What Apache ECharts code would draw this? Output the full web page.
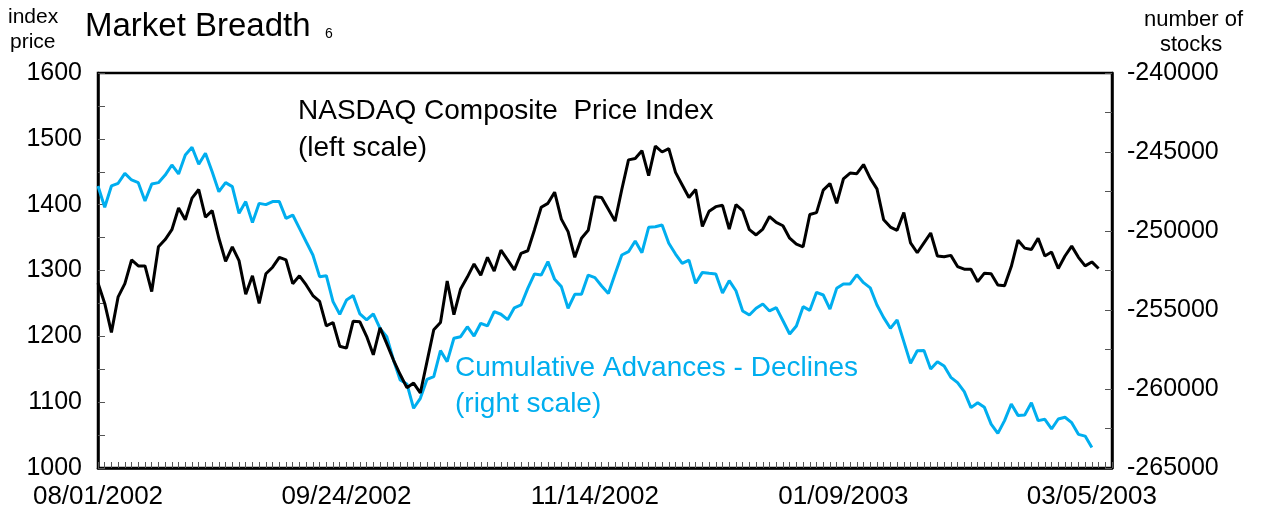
<!DOCTYPE html>
<html>
<head>
<meta charset="utf-8">
<script src="https://cdn.jsdelivr.net/npm/echarts@6/dist/echarts.min.js"></script>
<style>
html,body{margin:0;padding:0;background:#fff;}
#chart{width:1265px;height:512px;}
</style>
</head>
<body>
<div id="chart"></div>
<script>
const dates = [
"08/01/2002","08/02/2002","08/05/2002","08/06/2002","08/07/2002","08/08/2002","08/09/2002","08/12/2002","08/13/2002","08/14/2002",
"08/15/2002","08/16/2002","08/19/2002","08/20/2002","08/21/2002","08/22/2002","08/23/2002","08/26/2002","08/27/2002","08/28/2002",
"08/29/2002","08/30/2002","09/03/2002","09/04/2002","09/05/2002","09/06/2002","09/09/2002","09/10/2002","09/11/2002","09/12/2002",
"09/13/2002","09/16/2002","09/17/2002","09/18/2002","09/19/2002","09/20/2002","09/23/2002","09/24/2002","09/25/2002","09/26/2002",
"09/27/2002","09/30/2002","10/01/2002","10/02/2002","10/03/2002","10/04/2002","10/07/2002","10/08/2002","10/09/2002","10/10/2002",
"10/11/2002","10/14/2002","10/15/2002","10/16/2002","10/17/2002","10/18/2002","10/21/2002","10/22/2002","10/23/2002","10/24/2002",
"10/25/2002","10/28/2002","10/29/2002","10/30/2002","10/31/2002","11/01/2002","11/04/2002","11/05/2002","11/06/2002","11/07/2002",
"11/08/2002","11/11/2002","11/12/2002","11/13/2002","11/14/2002","11/15/2002","11/18/2002","11/19/2002","11/20/2002","11/21/2002",
"11/22/2002","11/25/2002","11/26/2002","11/27/2002","11/29/2002","12/02/2002","12/03/2002","12/04/2002","12/05/2002","12/06/2002",
"12/09/2002","12/10/2002","12/11/2002","12/12/2002","12/13/2002","12/16/2002","12/17/2002","12/18/2002","12/19/2002","12/20/2002",
"12/23/2002","12/24/2002","12/26/2002","12/27/2002","12/30/2002","12/31/2002","01/02/2003","01/03/2003","01/06/2003","01/07/2003",
"01/08/2003","01/09/2003","01/10/2003","01/13/2003","01/14/2003","01/15/2003","01/16/2003","01/17/2003","01/21/2003","01/22/2003",
"01/23/2003","01/24/2003","01/27/2003","01/28/2003","01/29/2003","01/30/2003","01/31/2003","02/03/2003","02/04/2003","02/05/2003",
"02/06/2003","02/07/2003","02/10/2003","02/11/2003","02/12/2003","02/13/2003","02/14/2003","02/18/2003","02/19/2003","02/20/2003",
"02/21/2003","02/24/2003","02/25/2003","02/26/2003","02/27/2003","02/28/2003","03/03/2003","03/04/2003","03/05/2003","03/06/2003",
"03/07/2003","03/10/2003"
];

// NASDAQ Composite Price Index (left scale)
const nasdaq = [
1281,1250,1206,1260,1280,1316,1307,1307,1268,1336,
1347,1362,1395,1377,1410,1423,1381,1391,1349,1314,
1336,1315,1264,1292,1250,1295,1305,1320,1316,1280,
1292,1278,1262,1253,1216,1221,1185,1182,1223,1222,
1200,1172,1213,1189,1164,1142,1122,1129,1114,1162,
1210,1221,1284,1233,1272,1290,1310,1293,1320,1299,
1331,1316,1301,1326,1330,1362,1396,1402,1419,1378,
1359,1320,1349,1361,1412,1411,1393,1375,1423,1468,
1470,1482,1444,1489,1480,1485,1449,1430,1411,1423,
1367,1390,1397,1399,1363,1400,1391,1362,1354,1363,
1382,1373,1368,1349,1340,1336,1385,1388,1422,1432,
1402,1439,1448,1447,1461,1440,1424,1377,1366,1361,
1388,1342,1327,1342,1357,1322,1321,1323,1306,1302,
1302,1283,1296,1295,1278,1277,1306,1346,1334,1332,
1349,1322,1328,1303,1322,1337,1320,1307,1313,1303
];

// Cumulative Advances - Declines (right scale)
const advDecl = [
-247150,-248500,-247150,-246980,-246350,-246770,-246940,-248100,-247030,-246940,
-246460,-245820,-246390,-245190,-244700,-245780,-245080,-246250,-247510,-246940,
-247190,-248880,-248140,-249470,-248250,-248330,-248140,-248140,-249200,-248990,
-249830,-250680,-251520,-252890,-252830,-254470,-255270,-254370,-254090,-255250,
-255630,-255250,-256160,-256690,-258160,-259430,-259680,-261220,-260590,-259390,
-259220,-257570,-258270,-256790,-256690,-256060,-256650,-255840,-256010,-255100,
-255270,-255610,-254860,-254680,-253630,-252720,-252790,-251940,-253060,-253520,
-254890,-254010,-254010,-252790,-252950,-253480,-253950,-252720,-251520,-251310,
-250630,-251370,-249770,-249730,-249620,-250780,-251460,-252050,-251840,-253310,
-252620,-252680,-252720,-253920,-253140,-253780,-255060,-255320,-254890,-254620,
-255060,-254850,-255680,-256520,-256010,-254790,-255020,-253880,-254050,-254940,
-253630,-253350,-253350,-252770,-253270,-253600,-254680,-255480,-256160,-255630,
-257000,-258380,-257580,-257570,-258730,-258270,-258540,-259260,-259600,-260170,
-261180,-260870,-261160,-262220,-262810,-262000,-260950,-261670,-261650,-260870,
-262000,-261920,-262530,-261900,-261790,-262130,-262870,-262980,-263710
];

const leftTicks = {min: 1000, max: 1600, step: 50, labelStep: 100};
const rightTicks = {min: -265000, max: -240000, step: 2500, labelStep: 5000};

const FONT = '"Liberation Sans", Arial, Helvetica, sans-serif';
const BLUE = '#00AEEF';

const chart = echarts.init(document.getElementById('chart'));
chart.setOption({
  animation: false,
  backgroundColor: '#fff',
  textStyle: {fontFamily: FONT},
  grid: {left: 98, right: 153, top: 73, bottom: 44, show: true, borderColor: '#000', borderWidth: 2.5, containLabel: false},
  xAxis: {
    type: 'category', data: dates, boundaryGap: false,
    axisLine: {lineStyle: {color: '#000', width: 2.5}},
    axisTick: {show: true, inside: true, length: 6, interval: 0, lineStyle: {color: '#555', width: 1}},
    axisLabel: {interval: 36, fontSize: 26, color: '#000', margin: 16, fontFamily: FONT},
    splitLine: {show: false}
  },
  yAxis: [{
    type: 'value', position: 'left', min: leftTicks.min, max: leftTicks.max, interval: leftTicks.step,
    axisLine: {show: true, lineStyle: {color: '#000', width: 2.5}},
    axisTick: {show: true, inside: true, length: 7, lineStyle: {color: '#555', width: 1}},
    axisLabel: {fontSize: 25, color: '#000', margin: 16, fontFamily: FONT,
      formatter: v => (v % leftTicks.labelStep === 0 ? String(v) : '')},
    splitLine: {show: false}
  }, {
    type: 'value', position: 'right', min: rightTicks.min, max: rightTicks.max, interval: rightTicks.step,
    axisLine: {show: true, lineStyle: {color: '#000', width: 2.5}},
    axisTick: {show: true, inside: true, length: 7, lineStyle: {color: '#555', width: 1}},
    axisLabel: {fontSize: 25, color: '#000', margin: 15, fontFamily: FONT,
      formatter: v => (v % rightTicks.labelStep === 0 ? String(v) : '')},
    splitLine: {show: false}
  }],
  series: [{
    name: 'NASDAQ Composite Price Index', type: 'line', yAxisIndex: 0, data: nasdaq,
    symbol: 'none', lineStyle: {color: '#000', width: 3}, z: 3
  }, {
    name: 'Cumulative Advances - Declines', type: 'line', yAxisIndex: 1, data: advDecl,
    symbol: 'none', lineStyle: {color: BLUE, width: 3}, z: 2
  }],
  graphic: [
    {type: 'text', left: 8, top: 7, style: {text: 'index', font: '21px ' + FONT, fill: '#000'}},
    {type: 'text', left: 10, top: 32, style: {text: 'price', font: '21px ' + FONT, fill: '#000'}},
    {type: 'text', left: 85, top: 10, style: {text: 'Market Breadth', font: '33px ' + FONT, fill: '#000'}},
    {type: 'text', left: 325, top: 27, style: {text: '6', font: '14px ' + FONT, fill: '#000'}},
    {type: 'text', left: 1144, top: 9, style: {text: 'number of', font: '22px ' + FONT, fill: '#000'}},
    {type: 'text', left: 1160, top: 34, style: {text: 'stocks', font: '22px ' + FONT, fill: '#000'}},
    {type: 'text', left: 298, top: 97, style: {text: 'NASDAQ Composite  Price Index', font: '28px ' + FONT, fill: '#000'}},
    {type: 'text', left: 298, top: 134, style: {text: '(left scale)', font: '28px ' + FONT, fill: '#000'}},
    {type: 'text', left: 455, top: 354, style: {text: 'Cumulative Advances - Declines', font: '28px ' + FONT, fill: BLUE}},
    {type: 'text', left: 455, top: 390, style: {text: '(right scale)', font: '28px ' + FONT, fill: BLUE}}
  ]
});
</script>
</body>
</html>
